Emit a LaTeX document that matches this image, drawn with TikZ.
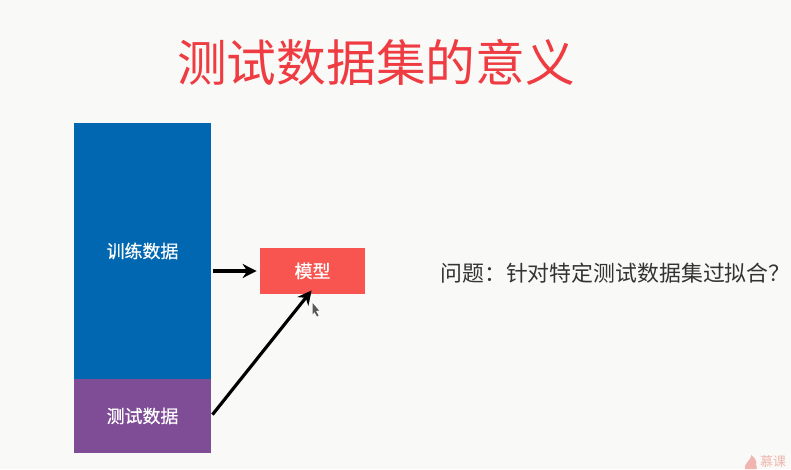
\documentclass[tikz,border=0pt]{standalone}
\usepackage{fontspec}
\setmainfont{Noto Sans CJK SC}
\newfontfamily\labelfont[FakeBold=0.5]{Noto Sans CJK SC}
\usetikzlibrary{arrows.meta,positioning}
\definecolor{bgcol}{HTML}{F9F9F7}
\definecolor{traincol}{HTML}{0067B0}
\definecolor{testcol}{HTML}{7E4D96}
\definecolor{modelcol}{HTML}{F85450}
\definecolor{titlecol}{HTML}{EE3C42}
\definecolor{textcol}{HTML}{333333}
\definecolor{markcol}{HTML}{F0B5AE}
\tikzset{
	databox/.style={inner sep=0pt, minimum width=2.74cm, text=white, font=\labelfont\fontsize{10.2pt}{12pt}\selectfont},
	link/.style={->, line width=1.8pt}
}
\begin{document}
\begin{tikzpicture}[>={Stealth[length=0.28cm,width=0.28cm]}, line join=round]
	\useasboundingbox[fill=bgcol] (0,0) rectangle (15.82,9.38);
	\node[titlecol, font=\fontsize{28.3pt}{32pt}\selectfont] (title) at (7.52,8.13) {测试数据集的意义};
	\node[databox, fill=traincol, minimum height=5.12cm] (train) at (2.85,4.36) {训练数据};
	\node[databox, fill=testcol, minimum height=1.48cm, below=-0.4pt of train] (test) {测试数据};
	\node[databox, fill=modelcol, minimum width=2.1cm, minimum height=0.92cm] (model) at (6.25,3.96) {模型};
	\node[textcol, font=\fontsize{12.45pt}{15pt}\selectfont] (question) at (12.31,3.92) {问题：针对特定测试数据集过拟合？};
	\draw[link, shorten <=1pt, shorten >=0.06cm] (train.east |- model.west) -- (model.west);
	\draw[link, shorten <=1pt, shorten >=-0.1cm] (test.east) -- ([xshift=-0.08cm]model.south);
	% pointer and logo
	\fill[black!65] (6.25,3.32) -- (6.25,3.09) -- (6.29,3.14) -- (6.34,3.05) -- (6.37,3.07) -- (6.32,3.16) -- (6.38,3.17) -- cycle;
	\fill[markcol, even odd rule] (14.9,0) .. controls (14.88,0.14) and (15.02,0.16) .. (15.03,0.28) .. controls (15.12,0.2) and (15.14,0.14) .. (15.12,0.08) .. controls (15.14,0.06) and (15.14,0.03) .. (15.13,0) -- cycle;
	\node[markcol, font=\fontsize{7.4pt}{9pt}\selectfont, inner sep=0pt, anchor=south] (logo) at (15.46,0.02) {慕课};
\end{tikzpicture}
\end{document}
